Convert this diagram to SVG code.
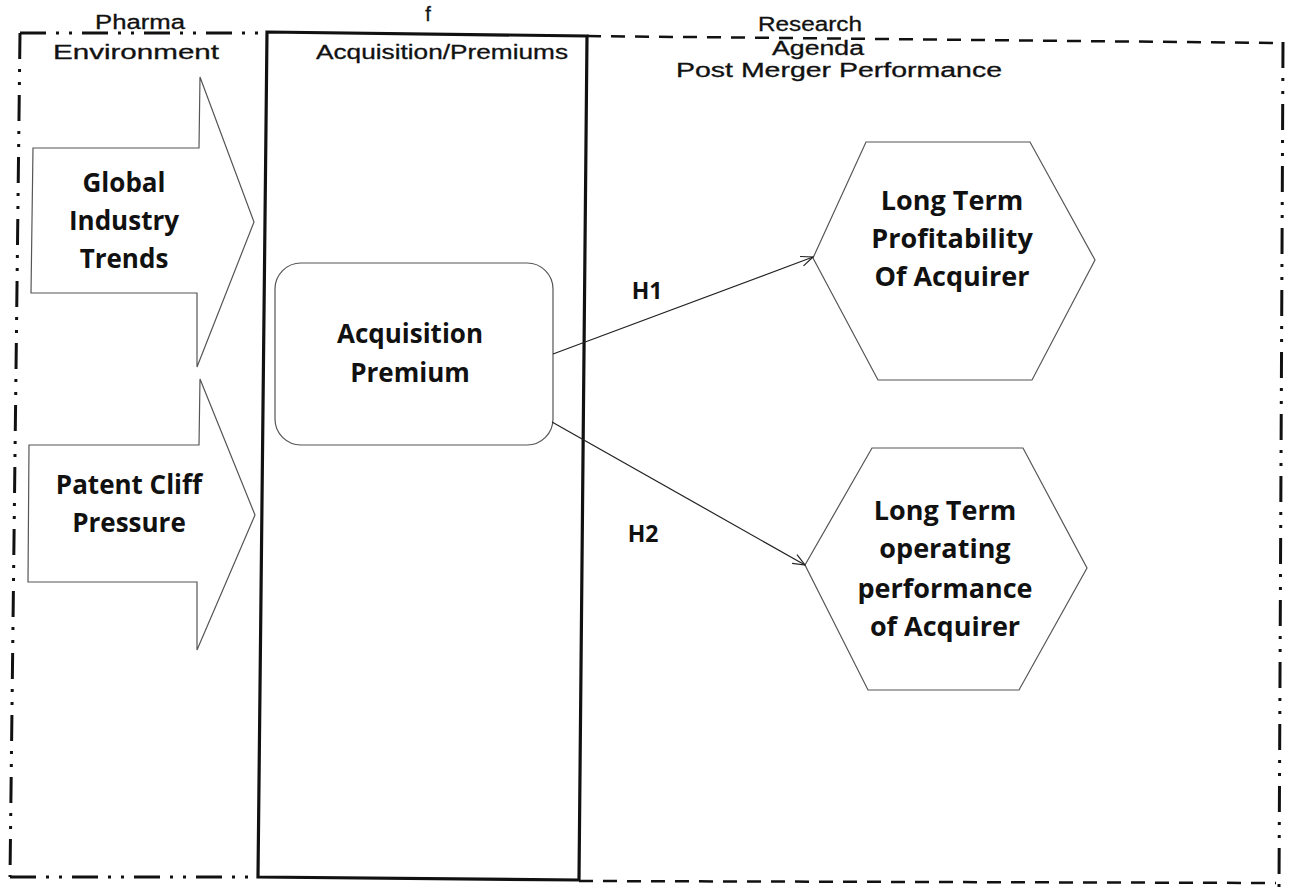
<svg xmlns="http://www.w3.org/2000/svg" width="1292" height="893" viewBox="0 0 1292 893">
  <defs>
    <marker id="openArrow" viewBox="0 0 14 12" refX="13" refY="6" markerWidth="14" markerHeight="12" markerUnits="userSpaceOnUse" orient="auto">
      <path d="M1,1 L13,6 L1,11" fill="none" stroke="#222" stroke-width="1.2"/>
    </marker>
    <style>
      .ddot { fill: none; stroke: #111; stroke-width: 3; stroke-dasharray: 26 10 3 10 3 10; }
      .dash { fill: none; stroke: #111; stroke-width: 2.5; stroke-dasharray: 14 10; }
      .frame { fill: none; stroke: #111; stroke-width: 3.2; }
      .shape { fill: #fff; stroke: #555; stroke-width: 1.2; }
      .hdr { font-family: "Liberation Sans", Arial, sans-serif; font-size: 20px; fill: #111; stroke: #111; stroke-width: 0.3; text-anchor: middle; }
      .lbl { font-family: "Open Sans", "Noto Sans", sans-serif; font-weight: 700; fill: #111; text-anchor: middle; }
      .conn { fill: none; stroke: #222; stroke-width: 1.2; }
    </style>
  </defs>
  <rect width="1292" height="893" fill="#fff"/>

  <g id="outer-frame">
    <path class="ddot" d="M20,33 L267,33"/>
    <path class="ddot" d="M20,33 L10,877"/>
    <path class="ddot" d="M10,877 L258,877"/>
    <path class="dash" d="M587,36 L1274,43"/>
    <path class="dash" d="M579,881 L1276,883"/>
    <path class="ddot" d="M1283,42 L1279,888"/>
    <text class="hdr" x="140" y="29" textLength="90" lengthAdjust="spacingAndGlyphs">Pharma</text>
    <text class="hdr" x="136" y="59" textLength="166" lengthAdjust="spacingAndGlyphs">Environment</text>
    <text class="hdr" x="810" y="31" textLength="104" lengthAdjust="spacingAndGlyphs">Research</text>
    <text class="hdr" x="818" y="55" textLength="92" lengthAdjust="spacingAndGlyphs">Agenda</text>
    <text class="hdr" x="839" y="77" textLength="326" lengthAdjust="spacingAndGlyphs">Post Merger Performance</text>
  </g>

  <g id="acquisition-frame">
    <polygon class="frame" points="267,32 587,36 579,880 258,877"/>
    <text class="hdr" x="428" y="21">f</text>
    <text class="hdr" x="442" y="59" textLength="252" lengthAdjust="spacingAndGlyphs">Acquisition/Premiums</text>
  </g>

  <g id="global-industry-trends">
    <polygon class="shape" points="33,148 199,148 200,77 254,222 197,367 197,293 31,293"/>
    <text class="lbl" font-size="26" x="124" y="192">Global</text>
    <text class="lbl" font-size="26" x="124" y="230">Industry</text>
    <text class="lbl" font-size="26" x="124" y="268">Trends</text>
  </g>

  <g id="patent-cliff-pressure">
    <polygon class="shape" points="29,445 199,445 200,379 255,515 197,650 197,582 28,582"/>
    <text class="lbl" font-size="26" x="129" y="494">Patent Cliff</text>
    <text class="lbl" font-size="26" x="129" y="532">Pressure</text>
  </g>

  <g id="acquisition-premium">
    <rect class="shape" x="275" y="263" width="278" height="182" rx="26" ry="26"/>
    <text class="lbl" font-size="26" x="410" y="343">Acquisition</text>
    <text class="lbl" font-size="26" x="410" y="382">Premium</text>
  </g>

  <g id="long-term-profitability">
    <polygon class="shape" points="813,258 866,142 1030,142 1095,260 1032,380 878,380"/>
    <text class="lbl" font-size="27" x="952" y="210">Long Term</text>
    <text class="lbl" font-size="27" x="952" y="248">Profitability</text>
    <text class="lbl" font-size="27" x="952" y="286">Of Acquirer</text>
  </g>

  <g id="long-term-operating">
    <polygon class="shape" points="805,565 872,448 1023,448 1087,568 1019,690 868,690"/>
    <text class="lbl" font-size="27" x="945" y="520">Long Term</text>
    <text class="lbl" font-size="27" x="945" y="558">operating</text>
    <text class="lbl" font-size="27" x="945" y="598">performance</text>
    <text class="lbl" font-size="27" x="945" y="636">of Acquirer</text>
  </g>

  <g id="connectors">
    <line class="conn" x1="553" y1="354" x2="813" y2="257" marker-end="url(#openArrow)"/>
    <line class="conn" x1="552" y1="422" x2="805" y2="565" marker-end="url(#openArrow)"/>
    <text class="lbl" font-size="23" x="647" y="299">H1</text>
    <text class="lbl" font-size="23" x="643" y="542">H2</text>
  </g>
</svg>
